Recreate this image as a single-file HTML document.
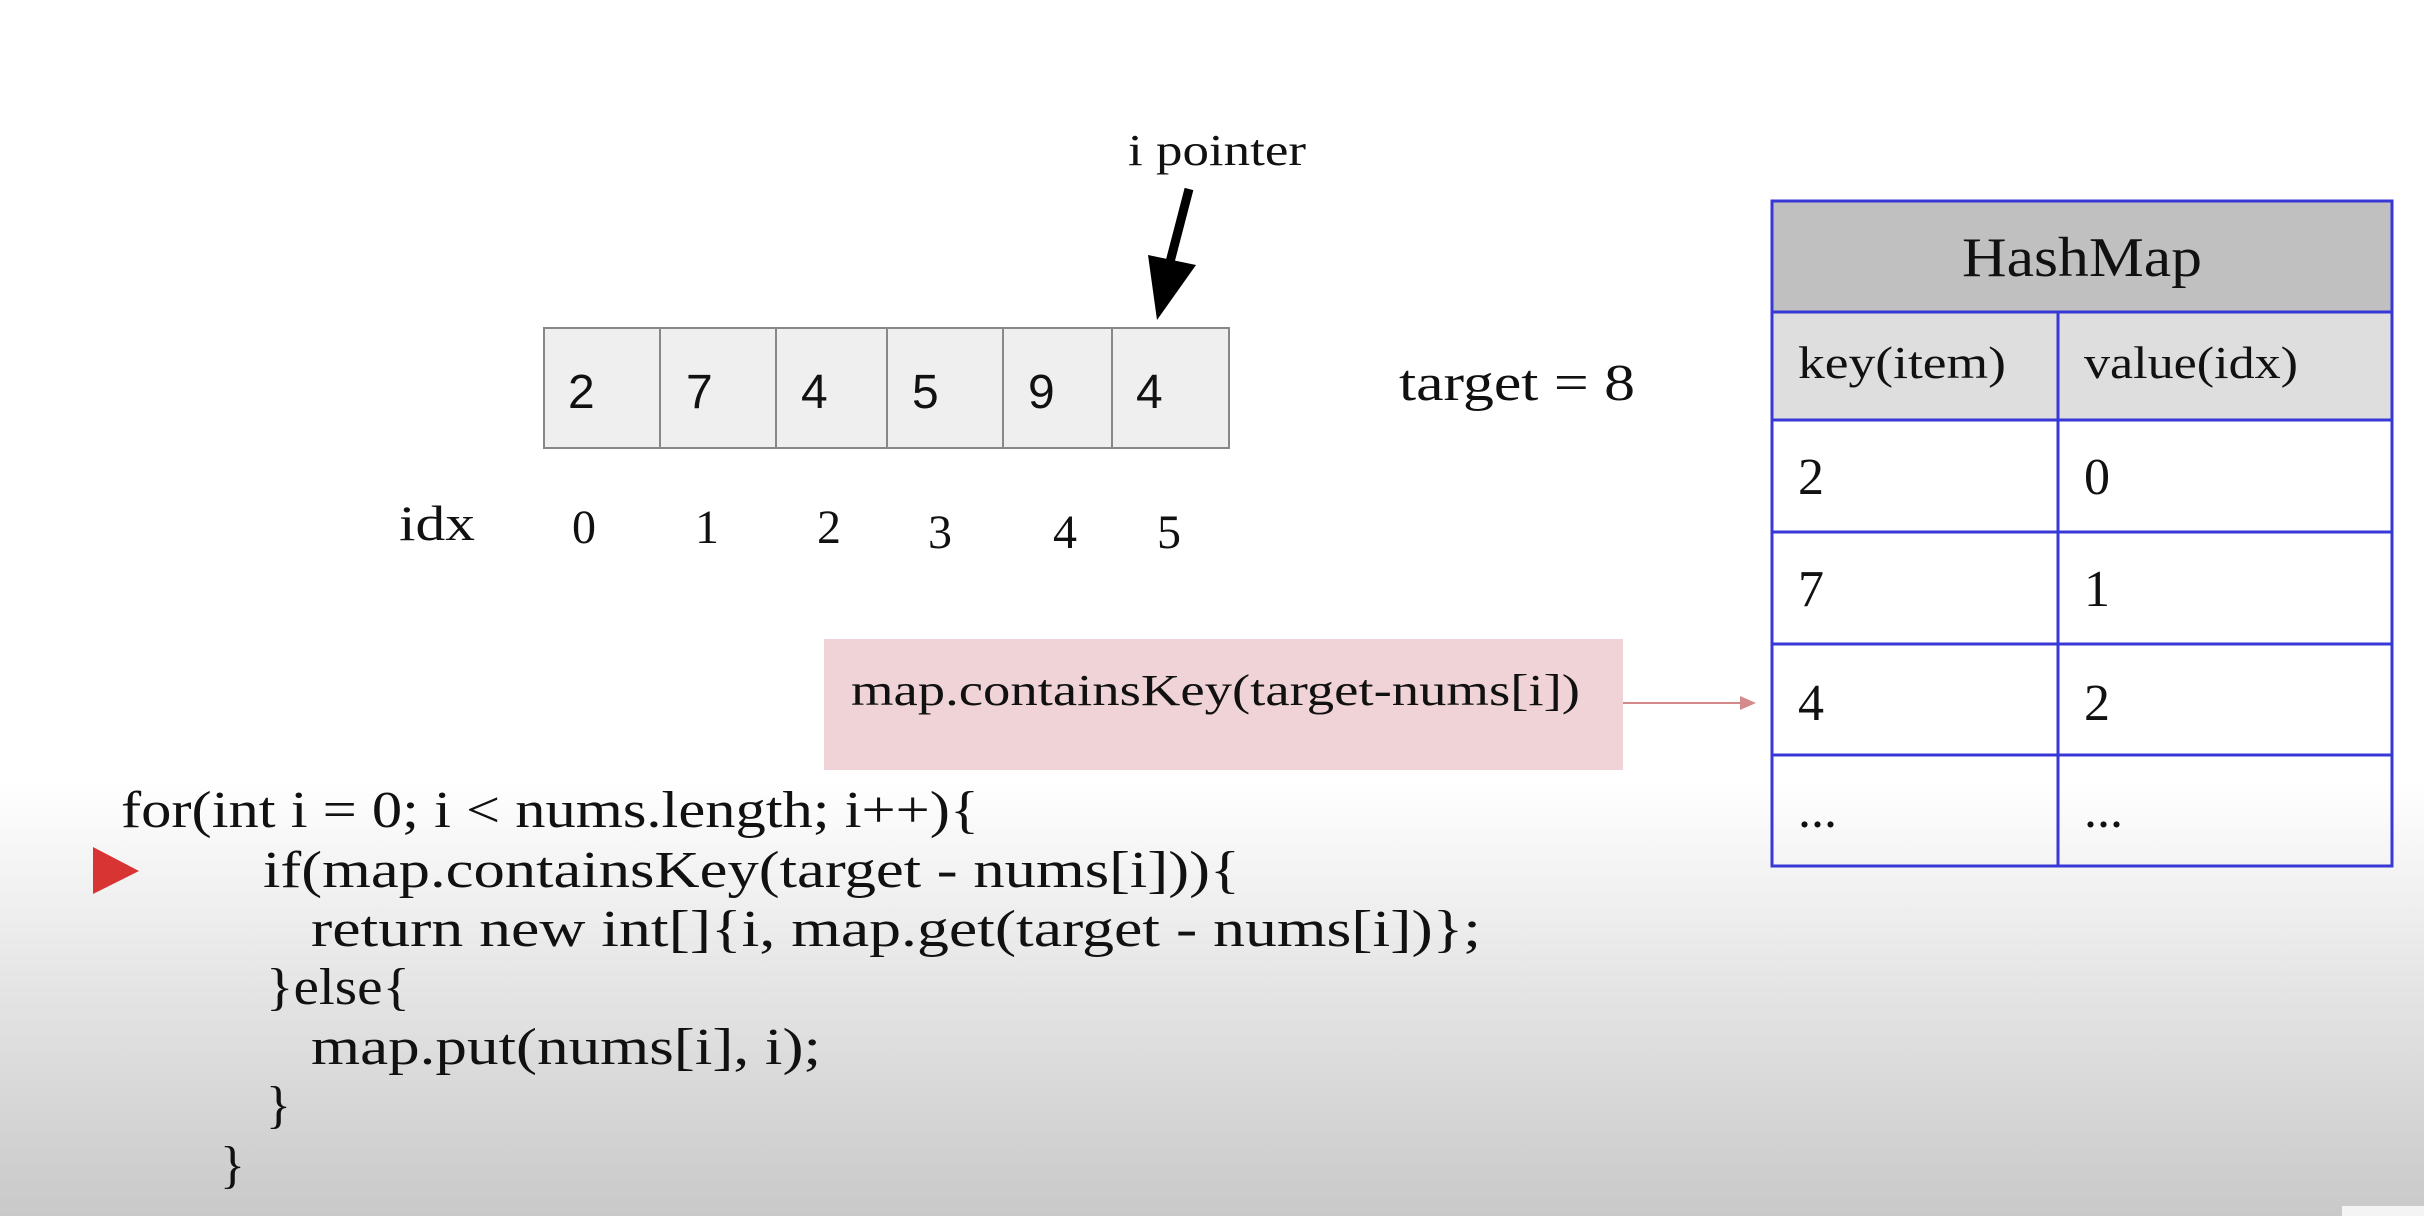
<!DOCTYPE html>
<html><head><meta charset="utf-8"><style>
html,body{margin:0;padding:0;width:2424px;height:1216px;overflow:hidden;background:#fff}
svg{display:block}
text{font-family:"Liberation Serif",serif;fill:#111}
.s{font-family:"Liberation Sans",sans-serif}
</style></head><body>
<svg width="2424" height="1216" viewBox="0 0 2424 1216" xmlns="http://www.w3.org/2000/svg">
<defs>
<linearGradient id="bg" x1="0" y1="0" x2="0" y2="1">
<stop offset="0" stop-color="#ffffff"/>
<stop offset="0.45" stop-color="#e6e6e6"/>
<stop offset="1" stop-color="#c9c9c9"/>
</linearGradient>
</defs>
<rect x="0" y="0" width="2424" height="1216" fill="#fff"/>
<rect x="0" y="780" width="2424" height="436" fill="url(#bg)"/>
<rect x="2342" y="1206" width="82" height="10" fill="#f4f4f4"/>

<text x="1128" y="165" font-size="44" textLength="178" lengthAdjust="spacingAndGlyphs">i pointer</text>
<line x1="1189" y1="189" x2="1170" y2="262" stroke="#000" stroke-width="9"/>
<polygon points="1148,255 1196,265 1157,320" fill="#000"/>

<g fill="#efefef" stroke="#888" stroke-width="2">
<rect x="544" y="328" width="116" height="120"/>
<rect x="660" y="328" width="116" height="120"/>
<rect x="776" y="328" width="111" height="120"/>
<rect x="887" y="328" width="116" height="120"/>
<rect x="1003" y="328" width="109" height="120"/>
<rect x="1112" y="328" width="117" height="120"/>
</g>
<g font-size="48">
<text class="s" x="568" y="408">2</text>
<text class="s" x="686" y="408">7</text>
<text class="s" x="801" y="408">4</text>
<text class="s" x="912" y="408">5</text>
<text class="s" x="1028" y="408">9</text>
<text class="s" x="1136" y="408">4</text>
</g>

<text x="1399" y="400" font-size="52" textLength="236" lengthAdjust="spacingAndGlyphs">target = 8</text>

<text x="399" y="540" font-size="50" textLength="76" lengthAdjust="spacingAndGlyphs">idx</text>
<g font-size="48" text-anchor="middle">
<text x="584" y="543">0</text>
<text x="707" y="543">1</text>
<text x="829" y="543">2</text>
<text x="940" y="548">3</text>
<text x="1065" y="548">4</text>
<text x="1169" y="548">5</text>
</g>

<rect x="824" y="639" width="799" height="131" fill="#efd3d6"/>
<text x="851" y="705" font-size="44" textLength="729" lengthAdjust="spacingAndGlyphs">map.containsKey(target-nums[i])</text>
<line x1="1623" y1="703" x2="1742" y2="703" stroke="#d48a8a" stroke-width="2"/>
<polygon points="1740,696 1756,703 1740,710" fill="#d48a8a"/>

<rect x="1772" y="201" width="620" height="111" fill="#c0c0c0"/>
<rect x="1772" y="312" width="620" height="108" fill="#dedede"/>
<g stroke="#3838d6" stroke-width="3" fill="none">
<rect x="1772" y="201" width="620" height="665"/>
<line x1="1772" y1="312" x2="2392" y2="312"/>
<line x1="1772" y1="420" x2="2392" y2="420"/>
<line x1="1772" y1="532" x2="2392" y2="532"/>
<line x1="1772" y1="644" x2="2392" y2="644"/>
<line x1="1772" y1="755" x2="2392" y2="755"/>
<line x1="2058" y1="312" x2="2058" y2="866"/>
</g>
<text x="2082" y="276" font-size="56" text-anchor="middle" textLength="240" lengthAdjust="spacingAndGlyphs">HashMap</text>
<text x="1798" y="378" font-size="46" textLength="208" lengthAdjust="spacingAndGlyphs">key(item)</text>
<text x="2084" y="378" font-size="46" textLength="214" lengthAdjust="spacingAndGlyphs">value(idx)</text>
<g font-size="52">
<text x="1798" y="494">2</text><text x="2084" y="494">0</text>
<text x="1798" y="606">7</text><text x="2084" y="606">1</text>
<text x="1798" y="720">4</text><text x="2084" y="720">2</text>
<text x="1798" y="827">...</text><text x="2084" y="827">...</text>
</g>

<polygon points="93,847 139,871 93,894" fill="#d93434"/>
<g font-size="52">
<text x="121" y="827" textLength="858" lengthAdjust="spacingAndGlyphs">for(int i = 0; i &lt; nums.length; i++){</text>
<text x="263" y="887" textLength="977" lengthAdjust="spacingAndGlyphs">if(map.containsKey(target - nums[i])){</text>
<text x="311" y="946" textLength="1170" lengthAdjust="spacingAndGlyphs">return new int[]{i,  map.get(target - nums[i])};</text>
<text x="266" y="1004" textLength="144" lengthAdjust="spacingAndGlyphs">}else{</text>
<text x="311" y="1064" textLength="510" lengthAdjust="spacingAndGlyphs">map.put(nums[i], i);</text>
<text x="266" y="1122">}</text>
<text x="220" y="1182">}</text>
</g>
</svg>
</body></html>
